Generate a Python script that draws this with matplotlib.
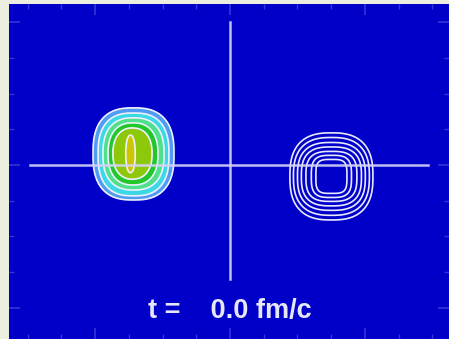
import numpy as np
import matplotlib
matplotlib.use('Agg')
import matplotlib.pyplot as plt
from matplotlib.ticker import MultipleLocator

# ---- data (fm) ----
# left nucleus (filled density contours), outer -> inner
left_cx = [-5.72, -5.72, -5.72, -5.75, -5.78, -5.90]
left_cy = [0.62, 0.59, 0.62, 0.62, 0.64, 0.62]
left_rx = [2.40, 2.10, 1.81, 1.48, 1.16, 0.28]
left_ry = [2.58, 2.32, 2.02, 1.74, 1.43, 1.05]
left_p = [2.6, 2.6, 2.5, 2.4, 2.3, 2.2]
left_colors = ['#4f9cf2', '#3cd8e6', '#4ee08a', '#22c82a', '#8ec80a', '#cdc600']

# right nucleus (line contours only), outer -> inner
right_cx = [6.01, 6.01, 6.01, 6.01, 6.01, 6.01, 6.01]
right_cy = [-0.64, -0.64, -0.64, -0.64, -0.64, -0.64, -0.64]
right_rx = [2.46, 2.25, 2.01, 1.78, 1.51, 1.19, 0.92]
right_ry = [2.44, 2.18, 1.90, 1.65, 1.40, 1.18, 0.95]
right_p = [2.6, 2.6, 2.7, 2.8, 3.0, 3.3, 3.8]

# beam axes (cross-hair)
hline_x = [-11.85, 11.73]
vline_y = [-6.4, 8.0]

time_label = 't =    0.0 fm/c'


def nested_field(X, Y, cx, cy, rx, ry, p, w=0.07):
    F = np.zeros_like(X)
    for a, b, c, d, e in zip(cx, cy, rx, ry, p):
        s = (np.abs((X - a) / c) ** e + np.abs((Y - b) / d) ** e) ** (1.0 / e)
        dist = (1.0 - s) * min(c, d)
        F += 0.5 + 0.5 * np.tanh(dist / w)
    return F


fig = plt.figure(figsize=(4.49, 3.39), dpi=100)
fig.patch.set_facecolor('#ecefdf')
ax = fig.add_axes([9 / 449, 0, 440 / 449, 335 / 339])
ax.set_facecolor('#0000c8')
for s in ax.spines.values():
    s.set_visible(False)

ax.set_xlim(-13.1, 12.98)
ax.set_ylim(-9.75, 9.02)

xs = np.linspace(-13.1, 12.98, 1000)
ys = np.linspace(-9.75, 9.02, 800)
X, Y = np.meshgrid(xs, ys)

FL = nested_field(X, Y, left_cx, left_cy, left_rx, left_ry, left_p)
nL = len(left_rx)
lev_fill = [i + 0.5 for i in range(nL)] + [nL + 1]
ax.contourf(X, Y, FL, levels=lev_fill, colors=left_colors, zorder=1)
ax.contour(X, Y, FL, levels=[i + 0.5 for i in range(nL)], colors='#eef0ff',
           linewidths=1.2, zorder=2)

FR = nested_field(X, Y, right_cx, right_cy, right_rx, right_ry, right_p)
nR = len(right_rx)
ax.contour(X, Y, FR, levels=[i + 0.5 for i in range(nR)], colors='#e8e8ff',
           linewidths=1.2, zorder=2)

ax.plot(hline_x, [0, 0], color='#d4d4f6', lw=1.8, alpha=0.9, zorder=3)
ax.plot([0, 0], vline_y, color='#d4d4f6', lw=1.8, alpha=0.9, zorder=3)

ax.text(0, -8.2, time_label, ha='center', va='center', color='#e6e6f8',
        fontsize=19.5, fontweight='bold', family='Liberation Sans', zorder=4)

ax.xaxis.set_major_locator(MultipleLocator(8))
ax.xaxis.set_minor_locator(MultipleLocator(2))
ax.yaxis.set_major_locator(MultipleLocator(8))
ax.yaxis.set_minor_locator(MultipleLocator(2))
ax.tick_params(which='both', direction='in', top=True, right=True,
               labelbottom=False, labelleft=False, colors='#3434d8')
ax.tick_params(which='major', length=8, width=1.2)
ax.tick_params(which='minor', length=3.5, width=1.0)

fig.savefig('out.png', dpi=100, facecolor=fig.get_facecolor())
